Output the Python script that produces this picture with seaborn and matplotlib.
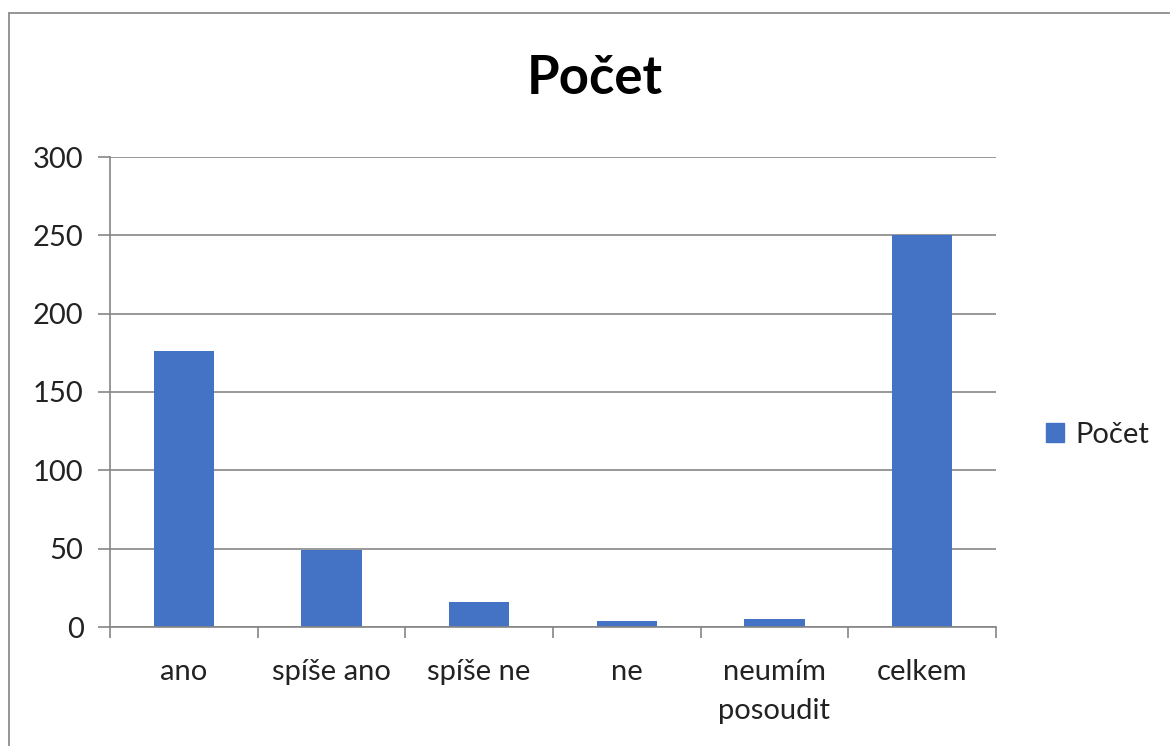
import matplotlib
matplotlib.use("Agg")
import matplotlib.pyplot as plt
from matplotlib.patches import Patch
from matplotlib.lines import Line2D
import seaborn as sns
import pandas as pd
import numpy as np

categories = ["ano", "spíše ano", "spíše ne", "ne", "neumím\nposoudit", "celkem"]
values = [176, 49, 16, 4, 5, 250]
series_name = "Počet"
yticks = [0, 50, 100, 150, 200, 250, 300]

df = pd.DataFrame({"kategorie": categories, "pocet": values})

sns.set_theme(style="white")
plt.rcParams["font.family"] = ["Lato", "DejaVu Sans"]

W, H = 1170, 746
fig = plt.figure(figsize=(W / 100, H / 100), dpi=100)
ax = fig.add_axes([110 / W, 1 - 627 / H, (996 - 110) / W, (627 - 157) / H])

bar_color = "#4472C4"
grid_color = "#868686"

sns.barplot(data=df, x="kategorie", y="pocet", color=bar_color, width=0.41,
            ax=ax, saturation=1, zorder=3, edgecolor=bar_color, linewidth=0)

ax.set_xlim(-0.5, len(categories) - 0.5)
ax.set_ylim(0, 300)
ax.set_yticks(yticks)
ax.set_yticklabels([str(v) for v in yticks])
ax.set_xlabel("")
ax.set_ylabel("")

ax.yaxis.grid(True, color=grid_color, linewidth=1.2, zorder=0)
ax.set_axisbelow(True)
for s in ["top", "right"]:
    ax.spines[s].set_visible(False)
for s in ["left", "bottom"]:
    ax.spines[s].set_color(grid_color)
    ax.spines[s].set_linewidth(1.2)
    ax.spines[s].set_zorder(4)

fs = 21
ax.tick_params(axis="y", which="major", length=9, width=1.2, color=grid_color,
               labelsize=fs, labelcolor="#222222", pad=10, direction="out", left=True)
ax.tick_params(axis="x", which="major", length=0, labelsize=fs,
               labelcolor="#222222", pad=23)
ax.set_xticks(np.arange(-0.5, len(categories)), minor=True)
ax.tick_params(axis="x", which="minor", length=8, width=1.2, color=grid_color,
               direction="out", bottom=True)
for lbl in ax.get_xticklabels():
    lbl.set_verticalalignment("top")
    lbl.set_linespacing(1.6)

fig.text(595 / W, 1 - 78 / H, series_name, ha="center", va="center",
         fontsize=38, fontweight="bold", color="#000000")

ax.legend(handles=[Patch(facecolor=bar_color, edgecolor=bar_color, label=series_name)],
          loc="center left", bbox_to_anchor=(1046 / W, 1 - 435 / H),
          bbox_transform=fig.transFigure, frameon=False, fontsize=fs,
          handlelength=0.62, handleheight=0.62, handletextpad=0.4, borderpad=0,
          borderaxespad=0, labelcolor="#222222")

# outer chart frame (left and top edges visible)
fig.add_artist(Line2D([8.5 / W, 8.5 / W], [0, 1 - 12.5 / H], transform=fig.transFigure,
                      color="#8c8c8c", linewidth=1.3))
fig.add_artist(Line2D([8.5 / W, 1], [1 - 12.5 / H, 1 - 12.5 / H], transform=fig.transFigure,
                      color="#8c8c8c", linewidth=1.3))

fig.savefig("out.png", dpi=100, facecolor="white")
